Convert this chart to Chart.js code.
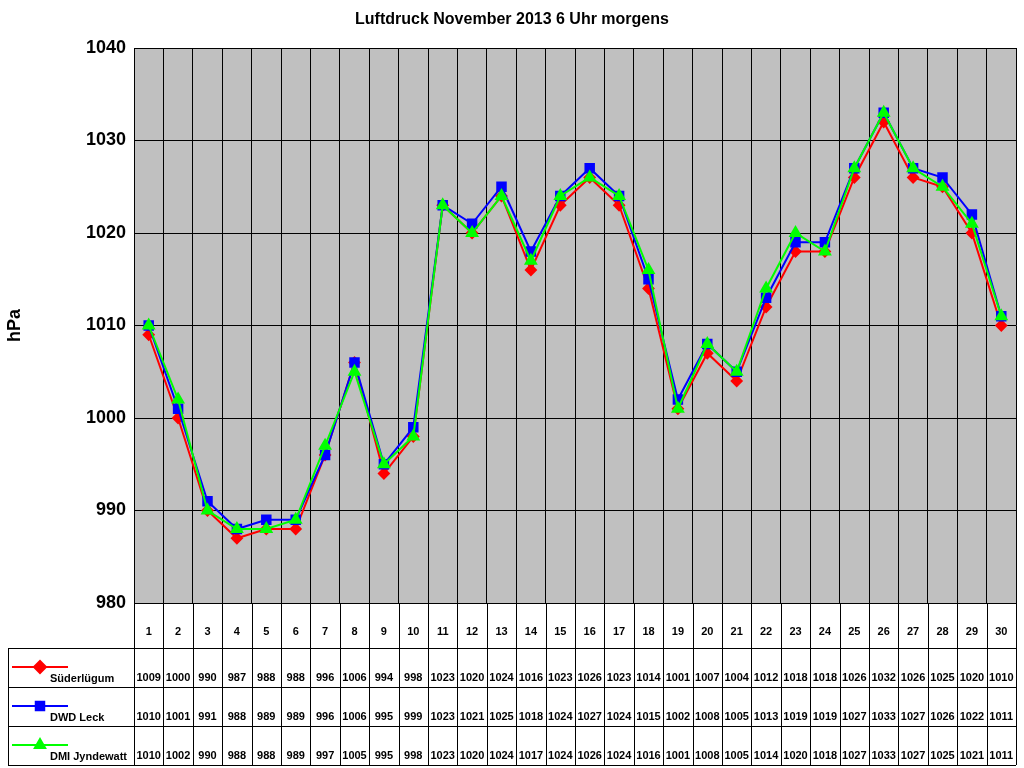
<!DOCTYPE html>
<html>
<head>
<meta charset="utf-8">
<script src="https://cdn.jsdelivr.net/npm/chart.js@4"></script>
<style>
  body { margin: 0; background: #fff; }
  #wrap { width: 1024px; height: 768px; }
</style>
</head>
<body>
<div id="wrap"><canvas id="myChart" width="1024" height="768"></canvas></div>
<script>
const days = [];
for (let d = 1; d <= 30; d++) days.push(String(d));

const suederluegum = [1009,1000,990,987,988,988,996,1006,994,998,1023,1020,1024,1016,1023,1026,1023,1014,1001,1007,1004,1012,1018,1018,1026,1032,1026,1025,1020,1010];
const dwdLeck      = [1010,1001,991,988,989,989,996,1006,995,999,1023,1021,1025,1018,1024,1027,1024,1015,1002,1008,1005,1013,1019,1019,1027,1033,1027,1026,1022,1011];
const dmiJyndewatt = [1010,1002,990,988,988,989,997,1005,995,998,1023,1020,1024,1017,1024,1026,1024,1016,1001,1008,1005,1014,1020,1018,1027,1033,1027,1025,1021,1011];

const yTicks = [980, 990, 1000, 1010, 1020, 1030, 1040];
const FONT = "'Liberation Sans', Arial, sans-serif";

// table rows in draw order
const rows = [
  { label: "Süderlügum", data: suederluegum, color: "#ff0000", style: "rectRot" },
  { label: "DWD Leck", data: dwdLeck, color: "#0000ff", style: "rect" },
  { label: "DMI Jyndewatt", data: dmiJyndewatt, color: "#00ff00", style: "triangle" }
];

const tablePlugin = {
  id: "tablePlugin",
  beforeDraw(chart) {
    const a = chart.chartArea, c = chart.ctx;
    c.save();
    c.fillStyle = "#c0c0c0";
    c.fillRect(a.left, a.top, a.right - a.left, a.bottom - a.top);
    c.restore();
  },
  afterDraw(chart) {
    const c = chart.ctx, a = chart.chartArea, x = chart.scales.x;
    const colW = (a.right - a.left) / days.length;
    const top = a.bottom, hdrBottom = 648, rowH = 39, tableLeft = 8;
    const bottom = hdrBottom + rowH * rows.length;
    c.save();
    // title
    c.fillStyle = "#000";
    c.font = "bold 16px " + FONT;
    c.textAlign = "center";
    c.textBaseline = "middle";
    c.fillText("Luftdruck November 2013 6 Uhr morgens", 512, 20);
    // grid of table
    c.strokeStyle = "#000";
    c.lineWidth = 1;
    c.beginPath();
    for (let i = 0; i <= days.length; i++) {
      const px = Math.round(a.left + i * colW) + 0.5;
      c.moveTo(px, top); c.lineTo(px, bottom);
    }
    c.moveTo(tableLeft + 0.5, hdrBottom); c.lineTo(tableLeft + 0.5, bottom);
    for (let r = 0; r <= rows.length; r++) {
      const py = hdrBottom + r * rowH + 0.5;
      c.moveTo(tableLeft, py); c.lineTo(a.right, py);
    }
    c.stroke();
    // day numbers
    c.font = "bold 11px " + FONT;
    days.forEach((d, i) => c.fillText(d, x.getPixelForValue(i), 632));
    // rows
    rows.forEach((row, r) => {
      const rt = hdrBottom + r * rowH;
      const ty = rt + rowH - 9;
      c.textAlign = "center";
      c.fillStyle = "#000";
      c.font = "bold 11px " + FONT;
      row.data.forEach((v, i) => c.fillText(String(v), x.getPixelForValue(i), ty));
      // legend sample
      const ly = rt + 19;
      c.strokeStyle = row.color;
      c.lineWidth = 2;
      c.beginPath(); c.moveTo(12, ly); c.lineTo(68, ly); c.stroke();
      Chart.helpers.drawPoint(c, { pointStyle: row.style, radius: 6, borderWidth: 1 }, 40, ly);
      c.fillStyle = row.color;
      Chart.helpers.drawPoint(c, { pointStyle: row.style, radius: 6, borderWidth: 0 }, 40, ly);
      c.fillStyle = "#000";
      c.textAlign = "left";
      c.fillText(row.label, 50, ty + 1);
    });
    c.restore();
  }
};

function ds(label, data, color, style, radius) {
  return {
    label: label, data: data,
    borderColor: color, backgroundColor: color,
    borderWidth: 2, pointStyle: style, pointRadius: radius,
    pointBorderColor: color, pointBackgroundColor: color,
    fill: false, tension: 0
  };
}

new Chart("myChart", {
  type: "line",
  data: {
    labels: days,
    datasets: [
      ds("DMI Jyndewatt", dmiJyndewatt, "#00ff00", "triangle", 6),
      ds("DWD Leck", dwdLeck, "#0000ff", "rect", 6),
      ds("Süderlügum", suederluegum, "#ff0000", "rectRot", 5)
    ]
  },
  options: {
    responsive: false,
    animation: false,
    layout: { padding: { top: 48, right: 1, bottom: 165, left: 0 } },
    plugins: { legend: { display: false }, title: { display: false }, tooltip: { enabled: false } },
    scales: {
      x: {
        offset: true,
        ticks: { display: false },
        grid: { color: "#000", lineWidth: 1, offset: true, drawTicks: false },
        border: { color: "#000" }
      },
      y: {
        min: 980, max: 1040,
        afterBuildTicks(s) { s.ticks = yTicks.map(v => ({ value: v })); },
        afterFit(s) { s.width = 134; },
        ticks: { color: "#000", font: { family: FONT, size: 18, weight: "bold" }, padding: 8, callback: v => String(v) },
        grid: { color: "#000", lineWidth: 1, drawTicks: false },
        border: { color: "#000" },
        title: { display: true, text: "hPa", color: "#000", font: { family: FONT, size: 18, weight: "bold" } }
      }
    }
  },
  plugins: [tablePlugin]
});
</script>
</body>
</html>
